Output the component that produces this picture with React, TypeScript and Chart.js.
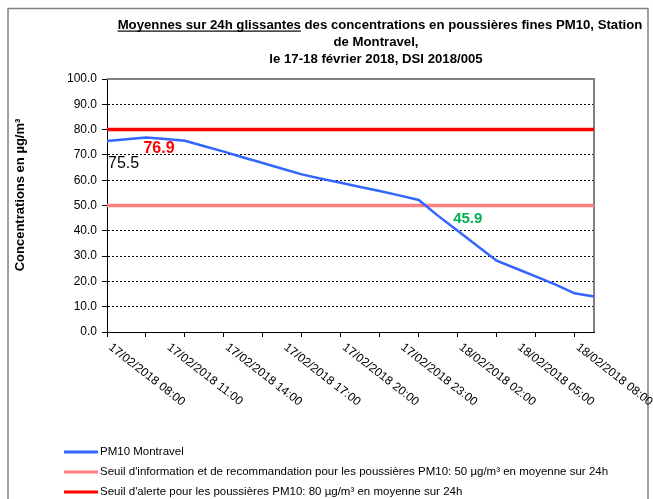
import React, { useEffect, useRef } from 'react';
import { Chart, registerables } from 'chart.js';

Chart.register(...registerables);

const FONT = "'Liberation Sans', Arial, sans-serif";

const timeLabels = [
  '17/02/2018 08:00', '17/02/2018 09:00', '17/02/2018 10:00', '17/02/2018 11:00',
  '17/02/2018 12:00', '17/02/2018 13:00', '17/02/2018 14:00', '17/02/2018 15:00',
  '17/02/2018 16:00', '17/02/2018 17:00', '17/02/2018 18:00', '17/02/2018 19:00',
  '17/02/2018 20:00', '17/02/2018 21:00', '17/02/2018 22:00', '17/02/2018 23:00',
  '18/02/2018 00:00', '18/02/2018 01:00', '18/02/2018 02:00', '18/02/2018 03:00',
  '18/02/2018 04:00', '18/02/2018 05:00', '18/02/2018 06:00', '18/02/2018 07:00',
  '18/02/2018 08:00', '18/02/2018 09:00',
];

const pm10Values = [
  75.5, 76.2, 76.9, 76.3, 75.6, 73.4, 71.3, 69.0, 66.8, 64.5, 62.3, 60.6, 59.0,
  57.3, 55.7, 54.0, 52.2, 45.9, 40.0, 34.1, 28.2, 25.1, 22.0, 18.8, 15.3, 14.0,
];

const infoThreshold = [
  50, 50, 50, 50, 50, 50, 50, 50, 50, 50, 50, 50, 50,
  50, 50, 50, 50, 50, 50, 50, 50, 50, 50, 50, 50, 50,
];

const alertThreshold = [
  80, 80, 80, 80, 80, 80, 80, 80, 80, 80, 80, 80, 80,
  80, 80, 80, 80, 80, 80, 80, 80, 80, 80, 80, 80, 80,
];

const seriesNames = [
  'PM10 Montravel',
  "Seuil d'information et de recommandation pour les poussières PM10: 50 µg/m³ en moyenne sur 24h",
  "Seuil d'alerte pour les poussières PM10: 80 µg/m³ en moyenne sur 24h",
];

const titleUnderlined = 'Moyennes sur 24h glissantes';
const titleLine1Rest = ' des concentrations en poussières fines PM10, Station';
const titleLine2 = 'de Montravel,';
const titleLine3 = 'le 17-18 février 2018, DSI 2018/005';
const yAxisTitle = 'Concentrations en µg/m³';

// data labels: [index, text, color, bold, size, dx, dy, align]
const dataLabels: [number, string, string, boolean, number, number, number, CanvasTextAlign][] = [
  [0, '75.5', '#000000', false, 16, 1, 27, 'left'],
  [2, '76.9', '#FF0000', true, 16, 13, 16, 'center'],
  [17, '45.9', '#00B050', true, 15, 15, 7, 'left'],
];

const drawPlugin = {
  id: 'customDraw',
  beforeDatasetsDraw(chart: any) {
    const { ctx, chartArea } = chart;
    ctx.save();
    ctx.strokeStyle = '#808080';
    ctx.lineWidth = 2;
    ctx.beginPath();
    ctx.moveTo(chartArea.left, chartArea.top);
    ctx.lineTo(chartArea.right, chartArea.top);
    ctx.lineTo(chartArea.right, chartArea.bottom);
    ctx.stroke();
    ctx.restore();
  },
  afterDatasetsDraw(chart: any) {
    const { ctx } = chart;
    const xs = chart.scales.x;
    const ys = chart.scales.y;
    ctx.save();
    for (const [i, text, color, bold, size, dx, dy, align] of dataLabels) {
      const px = xs.getPixelForValue(i);
      const py = ys.getPixelForValue(pm10Values[i]);
      ctx.font = `${bold ? 'bold ' : ''}${size}px ${FONT}`;
      ctx.fillStyle = color;
      ctx.textAlign = align;
      ctx.textBaseline = 'alphabetic';
      ctx.fillText(text, px + dx, py + dy);
    }
    ctx.restore();
  },
  afterDraw(chart: any) {
    const { ctx, chartArea } = chart;
    const xs = chart.scales.x;
    ctx.save();
    // outer frame
    ctx.strokeStyle = '#808080';
    ctx.lineWidth = 1.5;
    ctx.strokeRect(8, 8.5, 640, 520);

    // title
    const cx = 380;
    ctx.fillStyle = '#000';
    ctx.font = `bold 13.2px ${FONT}`;
    ctx.textBaseline = 'alphabetic';
    ctx.textAlign = 'left';
    const wU = ctx.measureText(titleUnderlined).width;
    const wR = ctx.measureText(titleLine1Rest).width;
    const x1 = cx - (wU + wR) / 2;
    ctx.fillText(titleUnderlined, x1, 29);
    ctx.fillText(titleLine1Rest, x1 + wU, 29);
    ctx.fillRect(x1, 30.5, wU, 1.2);
    ctx.textAlign = 'center';
    ctx.fillText(titleLine2, cx - 4, 46);
    ctx.fillText(titleLine3, cx - 4, 63);

    // y axis title
    ctx.save();
    ctx.translate(20, 195);
    ctx.rotate(-Math.PI / 2);
    ctx.font = `bold 13px ${FONT}`;
    ctx.textAlign = 'center';
    ctx.textBaseline = 'middle';
    ctx.fillText(yAxisTitle, 0, 0);
    ctx.restore();

    // x labels (rotated clockwise)
    ctx.font = `12px ${FONT}`;
    ctx.fillStyle = '#000';
    const ang = (38 * Math.PI) / 180;
    for (let i = 0; i < timeLabels.length; i += 3) {
      const px = xs.getPixelForValue(i);
      ctx.save();
      ctx.translate(px + 3, chartArea.bottom + 14);
      ctx.rotate(ang);
      ctx.textAlign = 'left';
      ctx.textBaseline = 'middle';
      ctx.fillText(timeLabels[i], 0, 0);
      ctx.restore();
    }

    // legend
    const ds = chart.data.datasets;
    const legendY = [452, 472, 492];
    ctx.font = `11.5px ${FONT}`;
    ctx.textAlign = 'left';
    ctx.textBaseline = 'middle';
    for (let k = 0; k < ds.length; k++) {
      ctx.strokeStyle = ds[k].borderColor;
      ctx.lineWidth = 3;
      ctx.beginPath();
      ctx.moveTo(64, legendY[k]);
      ctx.lineTo(98, legendY[k]);
      ctx.stroke();
      ctx.fillStyle = '#000';
      ctx.fillText(ds[k].label, 100, legendY[k]);
    }
    ctx.restore();
  },
};

export default function App() {
  const canvasRef = useRef<HTMLCanvasElement | null>(null);

  useEffect(() => {
    const canvas = canvasRef.current;
    if (!canvas) return;
    const chart = new Chart(canvas, {
      type: 'line',
      data: {
        labels: timeLabels,
        datasets: [
          {
            label: seriesNames[0],
            data: pm10Values,
            borderColor: '#3366FF',
            borderWidth: 2.5,
            pointRadius: 0,
            tension: 0,
            order: 0,
          },
          {
            label: seriesNames[1],
            data: infoThreshold,
            borderColor: '#FF8080',
            borderWidth: 3.5,
            pointRadius: 0,
            tension: 0,
            order: 2,
          },
          {
            label: seriesNames[2],
            data: alertThreshold,
            borderColor: '#FF0000',
            borderWidth: 3.5,
            pointRadius: 0,
            tension: 0,
            order: 1,
          },
        ],
      },
      options: {
        animation: false,
        responsive: false,
        devicePixelRatio: 1,
        layout: { padding: { top: 79, right: 59, left: 0, bottom: 0 } },
        plugins: {
          legend: { display: false },
          title: { display: false },
          tooltip: { enabled: false },
        },
        scales: {
          x: {
            type: 'category',
            offset: false,
            grid: {
              drawOnChartArea: false,
              drawTicks: true,
              tickLength: 5,
              color: (c: any) => (c.index % 2 === 0 ? '#000' : 'rgba(0,0,0,0)'),
              tickColor: (c: any) => (c.index % 2 === 0 ? '#000' : 'rgba(0,0,0,0)'),
            },
            border: { display: true, color: '#000', width: 1 },
            ticks: {
              autoSkip: false,
              maxRotation: 0,
              minRotation: 0,
              callback: () => '',
            },
            afterFit: (s: any) => {
              s.height = 167;
            },
          },
          y: {
            min: 0,
            max: 100,
            ticks: {
              stepSize: 10,
              color: '#000',
              font: { family: FONT, size: 12 },
              padding: 5,
              callback: (v: any) => Number(v).toFixed(1),
            },
            grid: {
              color: (c: any) =>
                c.tick && (c.tick.value === 0 || c.tick.value === 100) ? 'rgba(0,0,0,0)' : '#000',
              tickColor: '#000',
              tickLength: 5,
              lineWidth: 1,
            },
            border: { display: true, color: '#000', width: 1, dash: [2, 2] },
            afterFit: (s: any) => {
              s.width = 107;
            },
          },
        },
      },
      plugins: [drawPlugin],
    } as any);
    return () => chart.destroy();
  }, []);

  return (
    <div style={{ position: 'absolute', left: 0, top: 0, width: 653, height: 499, background: '#fff' }}>
      <canvas ref={canvasRef} width={653} height={499} style={{ display: 'block' }} />
    </div>
  );
}
